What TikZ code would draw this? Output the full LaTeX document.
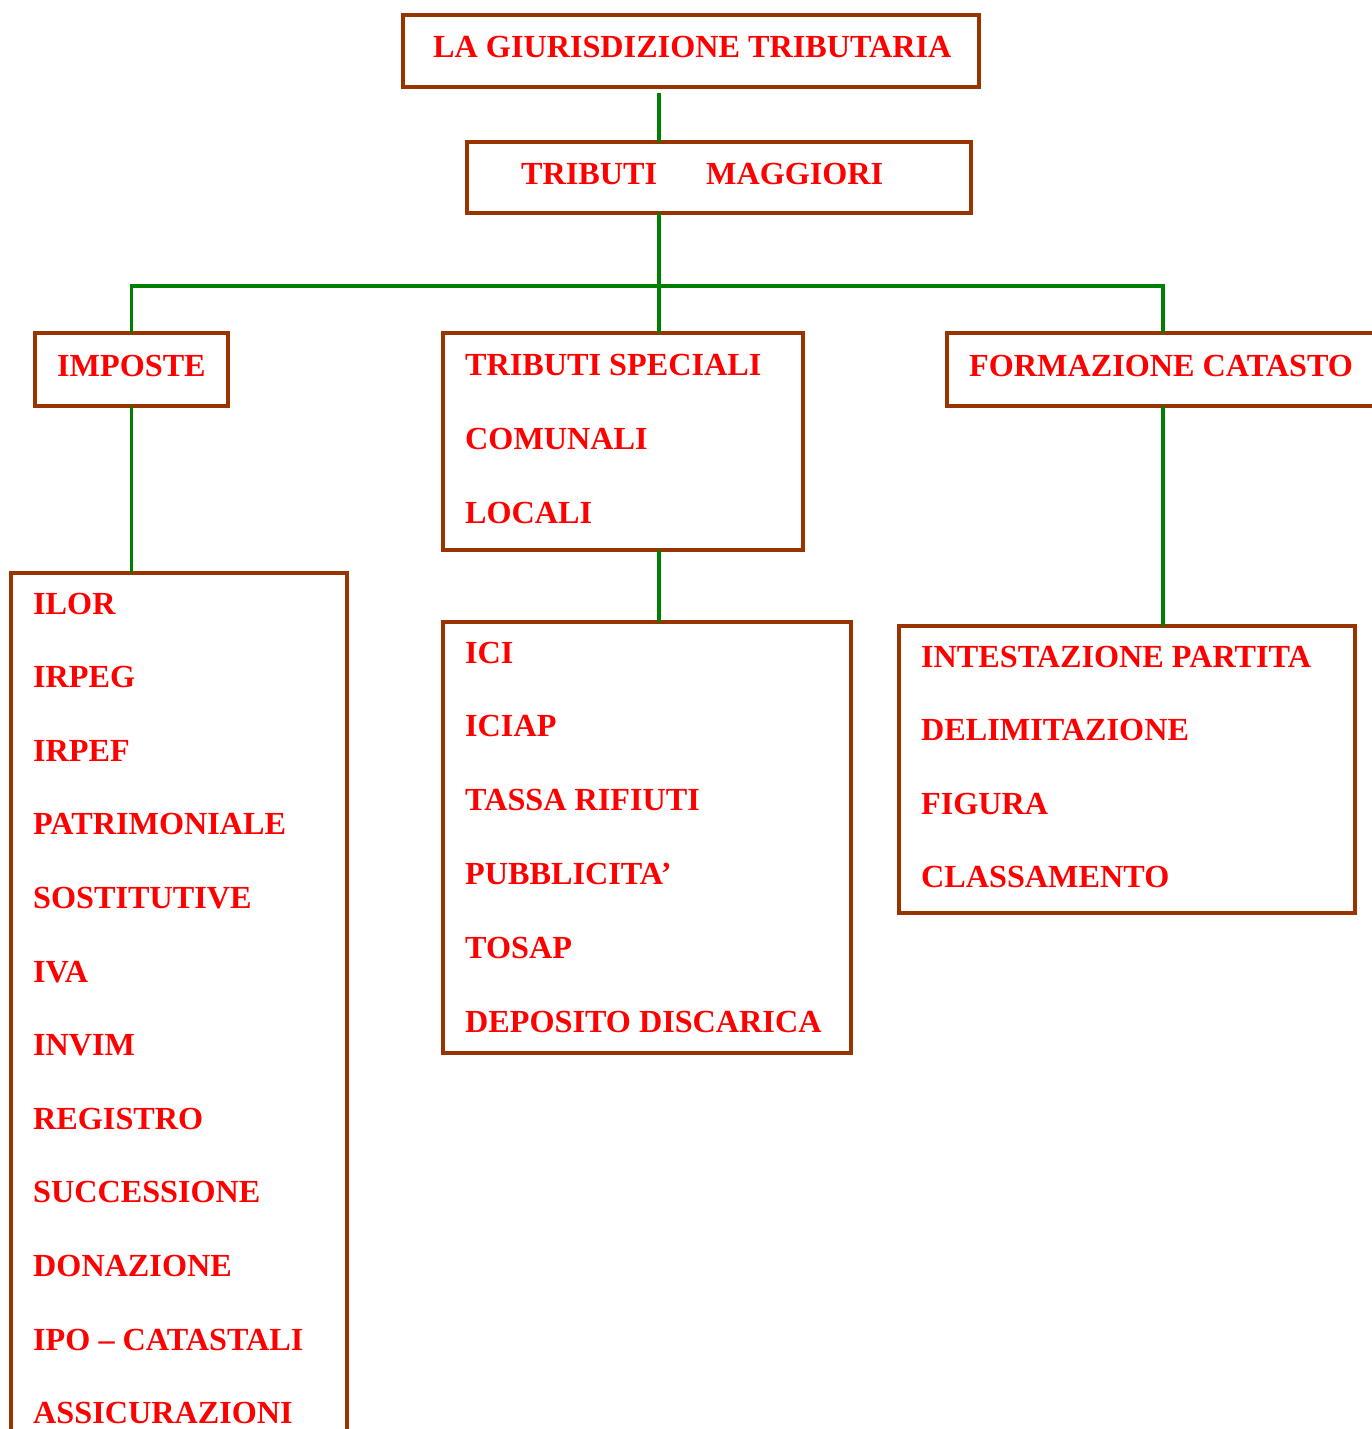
\documentclass[tikz,border=0pt]{standalone}
\usepackage{fontspec}
\setmainfont{Liberation Serif}
\definecolor{boxbrown}{HTML}{993300}
\definecolor{linkgreen}{HTML}{008000}
\definecolor{labelred}{HTML}{FF0000}

\begin{document}
\begin{tikzpicture}[x=1pt,y=-1pt,
  box/.style={draw=boxbrown, line width=3.3pt, rectangle, inner sep=0pt, outer sep=0pt, anchor=north west},
  lbl/.style={text=labelred, font=\fontsize{32.2}{38}\selectfont\bfseries, inner sep=0pt, anchor=base west},
  link/.style={draw=linkgreen, line width=3.2pt}]

\useasboundingbox (0,0) rectangle (1372,1429);
\clip (0,0) rectangle (1372,1429);

% vertical trunk of the tree
\coordinate (axis) at (659,0);

% boxes
\node[box, minimum width=576pt, minimum height=72pt]  (top)     at (403,15)  {};
\node[box, minimum width=504pt, minimum height=71pt]  (mag)     at (467,142) {};
\node[box, minimum width=193pt, minimum height=73pt]  (imp)     at (35,333)  {};
\node[box, minimum width=360pt, minimum height=217pt] (trib)    at (443,333) {};
\node[box, minimum width=432pt, minimum height=73pt]  (cat)     at (947,333) {};
\node[box, minimum width=336pt, minimum height=880pt] (implist) at (11,573)  {};
\node[box, minimum width=408pt, minimum height=431pt] (ici)     at (443,622) {};
\node[box, minimum width=456pt, minimum height=287pt] (catlist) at (899,626) {};

% connectors
\draw[link] ([yshift=-6pt]top.south -| axis) -- (mag.north -| axis);
\draw[link] (mag.south -| axis) -- (trib.north -| axis);
\draw[link] (imp.north) -- ++(0,-47) -| (cat.north);
\draw[link] (imp.south) -- (implist.north -| imp.south);
\draw[link] (trib.south -| axis) -- (ici.north -| axis);
\draw[link] (cat.south) -- (catlist.north -| cat.south);

% headings
\node[lbl] (ttop) at (433,58)  {LA GIURISDIZIONE TRIBUTARIA};
\node[lbl] (tmag) at (521,184) {TRIBUTI\hspace{49pt}MAGGIORI};
\node[lbl] (timp) at (57,376)  {IMPOSTE};
\node[lbl] (tcat) at (969,376) {FORMAZIONE CATASTO};
\foreach \t [count=\i] in {TRIBUTI SPECIALI, COMUNALI, LOCALI}
  \node[lbl] (trib\i) at (465,{375+74*(\i-1)}) {\t};

% item lists
\foreach \t [count=\i] in {ILOR, IRPEG, IRPEF, PATRIMONIALE, SOSTITUTIVE, IVA,
    INVIM, REGISTRO, SUCCESSIONE, DONAZIONE, IPO – CATASTALI, ASSICURAZIONI}
  \node[lbl] (imp\i) at (33,{614+73.6*(\i-1)}) {\t};
\foreach \t [count=\i] in {ICI, ICIAP, TASSA RIFIUTI, PUBBLICITA’, TOSAP, DEPOSITO DISCARICA}
  \node[lbl] (ici\i) at (465,{663+73.8*(\i-1)}) {\t};
\foreach \t [count=\i] in {INTESTAZIONE PARTITA, DELIMITAZIONE, FIGURA, CLASSAMENTO}
  \node[lbl] (cat\i) at (921,{667+73.6*(\i-1)}) {\t};

\end{tikzpicture}
\end{document}
